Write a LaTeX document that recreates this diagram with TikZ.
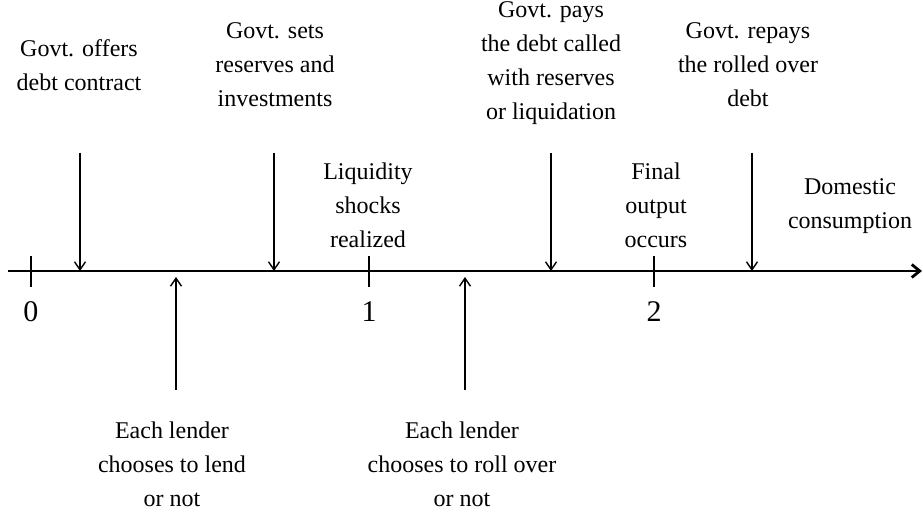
\documentclass[tikz,border=0pt]{standalone}
\usepackage{fontspec}
\setmainfont{Liberation Serif}
\usetikzlibrary{arrows.meta}

\begin{document}
\begin{tikzpicture}[x=0.5pt,y=-0.5pt,
	evt/.style={align=center,font=\fontsize{12}{17}\selectfont},
	num/.style={font=\fontsize{15}{18}\selectfont},
	arr/.style={-{Straight Barb[length=4pt,width=5.5pt]},line width=0.7pt},
	axisline/.style={-{Straight Barb[length=4pt,width=6.5pt]},line width=1.4pt}]
	\useasboundingbox (0,0) rectangle (923,517);
	% time line
	\coordinate (start) at (8,271);
	\coordinate (end) at (922,271);
	\draw[axisline] (start) -- (end);
	% dates
	\foreach \t/\x in {0/31,1/369,2/654}{
		\coordinate (tick\t top) at (\x,256);
		\coordinate (tick\t bot) at (\x,287);
		\draw[line width=0.8pt] (tick\t top) -- (tick\t bot);
		\node[num] (date\t) at (\x,312) {\t};
	}
	% government moves
	\foreach \n/\x in {offer/80,sets/274,pays/551,repay/752}{
		\coordinate (\n top) at (\x,153);
		\coordinate (\n ax) at (\x,271);
		\draw[arr] (\n top) -- (\n ax);
	}
	% lenders
	\foreach \n/\x in {lend/176,roll/465}{
		\coordinate (\n bot) at (\x,390);
		\coordinate (\n ax) at (\x,277);
		\draw[arr] (\n bot) -- (\n ax);
	}
	\node[evt] (offer) at (79,65) {Govt. offers\\debt contract};
	\node[evt] (sets) at (275,65) {Govt. sets\\reserves and\\investments};
	\node[evt] (shock) at (368,205) {Liquidity\\shocks\\realized};
	\node[evt] (pays) at (551,63) {Govt. pays\\the debt called\\with reserves\\or liquidation};
	\node[evt] (output) at (656,205) {Final\\output\\occurs};
	\node[evt] (repay) at (748,65) {Govt. repays\\the rolled over\\debt};
	\node[evt] (cons) at (850,206) {Domestic\\consumption};
	\node[evt] (lend) at (172,464) {Each lender\\chooses to lend\\or not};
	\node[evt] (roll) at (462,464) {Each lender\\chooses to roll over\\or not};
\end{tikzpicture}
\end{document}
